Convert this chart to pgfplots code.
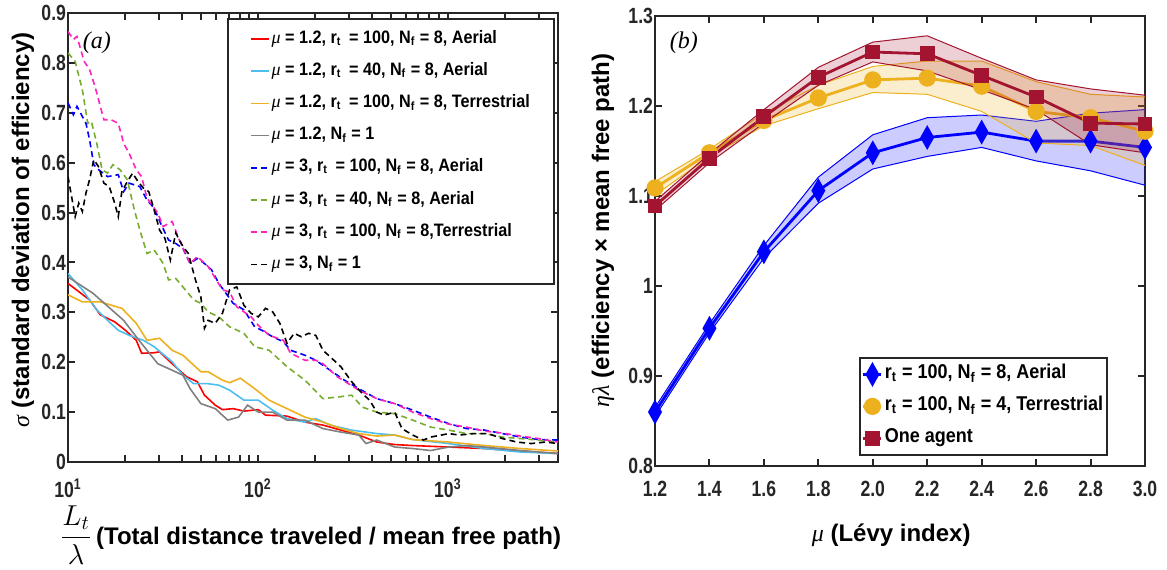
\documentclass[border=0pt]{standalone}
\usepackage{pgfplots}
\pgfplotsset{compat=1.18}
\usepackage{pgfplotstable}
\usepackage{fontspec}
\setmainfont{Liberation Sans}
\newfontfamily\serifit{Liberation Serif}
\newfontfamily\tickfont{Liberation Sans}[FakeStretch=0.8]
\newfontfamily\legfont{Liberation Sans}[FakeStretch=0.9]
\newcommand{\gk}[1]{{\serifit\mdseries\itshape #1}}
\newcommand{\sub}[1]{\textsubscript{#1}}
\definecolor{cRed}{HTML}{FF0000}
\definecolor{cCyan}{HTML}{4DBEEE}
\definecolor{cOrange}{HTML}{EDB120}
\definecolor{cGray}{HTML}{808080}
\definecolor{cBlue}{HTML}{0000FF}
\definecolor{cGreen}{HTML}{77AC30}
\definecolor{cPink}{HTML}{FF22BB}
\definecolor{rB}{HTML}{0000FF}
\definecolor{rY}{HTML}{EDB120}
\definecolor{rR}{HTML}{A2142F}
\definecolor{axc}{HTML}{262626}

\pgfplotstableread{
mu y lo hi
1.2 0.860 0.855 0.865
1.4 0.953 0.948 0.958
1.6 1.038 1.031 1.045
1.8 1.106 1.092 1.121
2.0 1.148 1.130 1.168
2.2 1.165 1.144 1.187
2.4 1.171 1.154 1.190
2.6 1.161 1.139 1.183
2.8 1.161 1.128 1.192
3.0 1.154 1.112 1.196
}\tblue
\pgfplotstableread{
mu y lo hi
1.2 1.109 1.101 1.116
1.4 1.148 1.144 1.152
1.6 1.184 1.178 1.192
1.8 1.209 1.197 1.223
2.0 1.229 1.215 1.244
2.2 1.231 1.213 1.250
2.4 1.222 1.194 1.250
2.6 1.194 1.159 1.227
2.8 1.187 1.156 1.213
3.0 1.172 1.134 1.210
}\tyel
\pgfplotstableread{
mu y lo hi
1.2 1.089 1.084 1.094
1.4 1.142 1.137 1.147
1.6 1.188 1.181 1.196
1.8 1.232 1.223 1.243
2.0 1.260 1.249 1.271
2.2 1.258 1.239 1.278
2.4 1.234 1.218 1.253
2.6 1.210 1.196 1.229
2.8 1.181 1.157 1.219
3.0 1.180 1.148 1.212
}\tred
% band outlines: upper edge forward, lower edge backward
\pgfplotstableread{
mu v
1.2 0.865
1.4 0.958
1.6 1.045
1.8 1.121
2.0 1.168
2.2 1.187
2.4 1.190
2.6 1.183
2.8 1.192
3.0 1.196
3.0 1.112
2.8 1.128
2.6 1.139
2.4 1.154
2.2 1.144
2.0 1.130
1.8 1.092
1.6 1.031
1.4 0.948
1.2 0.855
}\bblue
\pgfplotstableread{
mu v
1.2 1.116
1.4 1.152
1.6 1.192
1.8 1.223
2.0 1.244
2.2 1.250
2.4 1.250
2.6 1.227
2.8 1.213
3.0 1.210
3.0 1.134
2.8 1.156
2.6 1.159
2.4 1.194
2.2 1.213
2.0 1.215
1.8 1.197
1.6 1.178
1.4 1.144
1.2 1.101
}\byel
\pgfplotstableread{
mu v
1.2 1.094
1.4 1.147
1.6 1.196
1.8 1.243
2.0 1.271
2.2 1.278
2.4 1.253
2.6 1.229
2.8 1.219
3.0 1.212
3.0 1.148
2.8 1.157
2.6 1.196
2.4 1.218
2.2 1.239
2.0 1.249
1.8 1.223
1.6 1.181
1.4 1.137
1.2 1.084
}\bred

\pgfplotsset{
  common/.style={
    scale only axis,
    axis line style={line width=1.3pt, color=axc},
    every tick/.style={line width=1pt, color=axc},
    major tick length=3.5pt, minor tick length=3.5pt,
    tick label style={font=\tickfont\bfseries\fontsize{11}{13}\selectfont, color=axc},
    yticklabel style={xshift=2.5pt},
    label style={font=\bfseries\fontsize{12}{14}\selectfont, color=black},
    legend cell align=left,
  },
}

\begin{document}
\begin{tikzpicture}
\path[use as bounding box] (0,0) rectangle (583.5pt,-284.5pt);

% ---------------- left panel ----------------
\begin{axis}[common,
  at={(34pt,-231pt)}, anchor=south west,
  width=245pt, height=224.5pt,
  xmode=log, xmin=10, xmax=3800, ymin=0, ymax=0.9,
  xtick={10,100,1000},
  xticklabels={10\textsuperscript{1},10\textsuperscript{2},10\textsuperscript{3}},
  xticklabel style={yshift=-5pt},
  minor xtick={20,30,40,50,60,70,80,90,200,300,400,500,600,700,800,900,2000,3000},
  ytick={0,0.1,0.2,0.3,0.4,0.5,0.6,0.7,0.8,0.9},
  yticklabels={0,0.1,0.2,0.3,0.4,0.5,0.6,0.7,0.8,0.9},
  xlabel={{\fontsize{14}{16}\selectfont$\displaystyle\frac{L_t}{\lambda}$}\,(Total distance traveled / mean free path)},
  xlabel style={at={([yshift=-36.5pt]rel axis cs:0.495,0)}, anchor=center},
  ylabel={\gk{σ} (standard deviation of efficiency)},
  ylabel style={at={([xshift=-22.5pt]rel axis cs:0,0.517)}, anchor=center},
  legend style={at={(0.994,0.989)}, anchor=north east, draw=axc, line width=1.2pt, fill=white,
    font=\legfont\bfseries\fontsize{9}{10}\selectfont, row sep=4.3pt, inner xsep=11pt, inner ysep=4pt,
    nodes={inner sep=1pt, text height=7pt, text depth=2.8pt}},
  legend image code/.code={\draw[#1] (0pt,0pt) -- (9pt,0pt);},
]
\addplot[cRed, line width=0.8pt] table {
10.000 0.358
12.985 0.325
14.797 0.295
17.611 0.281
20.068 0.264
22.868 0.244
24.42 0.218
28.428 0.219
30.35 0.221
35.341 0.197
42.063 0.171
47.931 0.161
52.291 0.134
59.586 0.114
65.006 0.105
74.076 0.107
84.411 0.102
100.44 0.105
109.57 0.094
142.26 0.092
176.8 0.080
219.9 0.074
273.3 0.064
339.7 0.054
422.4 0.040
525.1 0.035
652.8 0.033
1008.7 0.030
1559 0.027
2410 0.022
3800 0.017
};
\addlegendentry{\gk{μ} = 1.2, r\sub{t}\, = 100, N\sub{f} = 8, Aerial}
\addplot[cCyan, line width=0.8pt] table {
10.000 0.378
11.902 0.345
14.166 0.305
16.143 0.284
18.395 0.264
20.961 0.254
24.948 0.244
28.428 0.231
35.341 0.201
40.271 0.174
45.889 0.157
54.618 0.157
62.237 0.154
70.92 0.144
84.411 0.124
100.44 0.124
119.53 0.104
142.26 0.087
176.8 0.080
201.5 0.087
239.8 0.074
311.4 0.064
422.4 0.057
525.1 0.054
652.8 0.045
1008.7 0.037
1559 0.027
2410 0.020
3800 0.017
};
\addlegendentry{\gk{μ} = 1.2, r\sub{t}\, = 40, N\sub{f} = 8, Aerial}
\addplot[cOrange, line width=0.8pt] table {
10.000 0.335
11.902 0.321
14.797 0.321
19.213 0.308
22.868 0.278
26.058 0.244
30.35 0.248
35.341 0.224
40.271 0.214
50.064 0.181
54.618 0.181
65.006 0.164
70.92 0.159
80.815 0.168
96.16 0.147
114.44 0.124
142.26 0.107
176.8 0.090
219.9 0.080
273.3 0.067
339.7 0.057
422.4 0.052
525.1 0.054
652.8 0.045
1008.7 0.040
1559 0.033
2410 0.027
3800 0.022
};
\addlegendentry{\gk{μ} = 1.2, r\sub{t}\, = 100, N\sub{f} = 8, Terrestrial}
\addplot[cGray, line width=0.8pt] table {
10.000 0.371
13.563 0.338
19.63 0.284
22.868 0.251
29.693 0.197
35.341 0.184
40.271 0.174
43.934 0.147
50.064 0.117
59.586 0.107
69.39 0.084
79.06 0.090
88.166 0.114
100.44 0.100
119.53 0.100
142.26 0.084
176.8 0.084
219.9 0.067
273.3 0.060
339.7 0.054
370.6 0.037
422.4 0.044
525.1 0.030
652.8 0.027
811.7 0.023
1008.7 0.030
1254 0.033
1559 0.030
2410 0.023
3800 0.017
};
\addlegendentry{\gk{μ} = 1.2, N\sub{f} = 1}
\addplot[cBlue, line width=0.8pt, dash pattern=on 3pt off 2pt] table {
10.000 0.720
10.675 0.696
11.149 0.713
12.432 0.679
12.985 0.646
13.68 0.596
14.478 0.586
16.143 0.572
18.395 0.576
19.63 0.542
20.961 0.559
23.885 0.552
26.058 0.525
28.428 0.509
31.014 0.475
33.835 0.445
36.913 0.438
40.271 0.428
43.934 0.398
47.931 0.408
52.291 0.398
57.048 0.385
62.237 0.358
67.899 0.338
74.076 0.318
84.411 0.305
96.16 0.271
104.9 0.264
119.53 0.251
136.2 0.241
148.59 0.224
176.8 0.214
201.5 0.204
239.8 0.184
285.4 0.164
339.7 0.147
422.4 0.127
525.1 0.117
652.8 0.104
811.7 0.090
1008.7 0.077
1254 0.067
1559 0.064
1938 0.057
2410 0.050
2995 0.045
3800 0.044
};
\addlegendentry{\gk{μ} = 3, r\sub{t}\, = 100, N\sub{f} = 8, Aerial}
\addplot[cGreen, line width=0.8pt, dash pattern=on 3pt off 2pt] table {
10.000 0.820
10.909 0.803
11.902 0.746
12.706 0.679
13.271 0.683
14.166 0.639
15.122 0.586
16.143 0.579
17.232 0.596
18.80 0.586
20.51 0.566
22.37 0.505
23.885 0.465
26.058 0.418
28.428 0.425
31.70 0.398
33.835 0.365
36.913 0.368
40.271 0.351
45.889 0.325
50.064 0.318
54.618 0.301
62.237 0.291
70.92 0.271
84.411 0.258
96.16 0.231
114.44 0.224
142.26 0.191
176.8 0.164
219.9 0.127
273.3 0.131
311.4 0.134
354.8 0.110
422.4 0.100
525.1 0.097
652.8 0.084
811.7 0.070
1008.7 0.064
1254 0.057
1559 0.057
1938 0.050
2410 0.047
2995 0.044
3800 0.040
};
\addlegendentry{\gk{μ} = 3, r\sub{t}\, = 40, N\sub{f} = 8, Aerial}
\addplot[cPink, line width=0.8pt, dash pattern=on 3pt off 2pt] table {
10.000 0.863
10.675 0.847
11.149 0.853
12.164 0.803
12.985 0.787
13.861 0.753
14.797 0.713
15.456 0.686
16.861 0.686
18.395 0.679
19.63 0.639
20.961 0.619
22.868 0.586
24.42 0.572
26.058 0.529
29.693 0.499
31.70 0.472
35.341 0.482
38.555 0.445
43.934 0.398
47.931 0.412
54.618 0.392
65.006 0.345
70.92 0.341
77.372 0.311
92.06 0.291
100.44 0.274
114.44 0.254
136.2 0.244
148.59 0.218
176.8 0.204
201.5 0.204
219.9 0.197
261.6 0.171
339.7 0.144
422.4 0.127
525.1 0.117
652.8 0.100
811.7 0.087
1008.7 0.076
1254 0.070
1559 0.062
1938 0.058
2410 0.052
2995 0.047
3800 0.040
};
\addlegendentry{\gk{μ} = 3, r\sub{t}\, = 100, N\sub{f} = 8,Terrestrial}
\addplot[black, line width=0.8pt, dash pattern=on 3pt off 2pt] table {
10.000 0.572
10.445 0.532
10.909 0.492
11.395 0.519
11.902 0.502
12.432 0.539
12.985 0.566
13.68 0.606
14.478 0.592
15.456 0.559
16.498 0.552
17.611 0.519
18.395 0.492
19.213 0.542
20.51 0.562
21.894 0.579
23.37 0.562
24.948 0.549
26.63 0.542
28.428 0.505
30.35 0.465
32.394 0.448
34.58 0.405
36.913 0.459
40.271 0.432
43.00 0.418
46.90 0.365
50.064 0.331
52.291 0.268
54.618 0.284
59.586 0.278
65.006 0.298
70.92 0.345
77.372 0.351
84.411 0.314
92.06 0.298
100.44 0.291
109.57 0.308
119.53 0.301
130.4 0.278
142.26 0.238
155.2 0.258
169.3 0.251
184.7 0.258
201.5 0.254
219.9 0.224
239.8 0.211
273.3 0.191
311.4 0.161
354.8 0.137
387.1 0.124
422.4 0.100
460.8 0.094
525.1 0.100
573.0 0.067
652.8 0.054
743.8 0.044
811.7 0.050
924.7 0.054
1008.7 0.057
1149.5 0.054
1368 0.057
1628 0.057
1938 0.047
2307 0.040
2745 0.037
3268 0.040
3800 0.037
};
\addlegendentry{\gk{μ} = 3, N\sub{f} = 1}
\node[font=\serifit\itshape\fontsize{12}{14}\selectfont] at (rel axis cs:0.059,0.933) {(a)};
\end{axis}

% ---------------- right panel ----------------
\begin{axis}[common,
  at={(327.5pt,-233pt)}, anchor=south west,
  width=245pt, height=225pt,
  xmin=1.2, xmax=3.0, ymin=0.8, ymax=1.3,
  xtick={1.2,1.4,1.6,1.8,2.0,2.2,2.4,2.6,2.8,3.0},
  xticklabels={1.2,1.4,1.6,1.8,2.0,2.2,2.4,2.6,2.8,3.0},
  xticklabel style={yshift=-4pt},
  ytick={0.8,0.9,1,1.1,1.2,1.3},
  yticklabels={0.8,0.9,1,1.1,1.2,1.3},
  xlabel={\gk{μ} (Lévy index)},
  xlabel style={at={([yshift=-34.5pt]rel axis cs:0.482,0)}, anchor=center},
  ylabel={\gk{ηλ} (efficiency × mean free path)},
  ylabel style={at={([xshift=-26pt]rel axis cs:0,0.524)}, anchor=center},
  legend style={at={(0.416,0.022)}, anchor=south west, draw=axc, line width=1.2pt, fill=white,
    font=\legfont\bfseries\fontsize{10}{11}\selectfont, row sep=3.5pt, inner xsep=1pt, inner ysep=2pt,
    nodes={inner sep=1pt, text height=7.5pt, text depth=3pt}},
  legend image code/.code={\draw[mark repeat=2,mark phase=2,#1] plot coordinates {(0pt,0pt) (4.5pt,0pt) (9pt,0pt)};},
]
% blue
\addplot[fill=rB, fill opacity=0.2, draw=none, forget plot] table[x=mu,y=v]{\bblue};
\addplot[draw=rB, line width=0.5pt, forget plot] table[x=mu,y=lo]{\tblue};
\addplot[draw=rB, line width=0.5pt, forget plot] table[x=mu,y=hi]{\tblue};
\addplot[rB, line width=1.4pt, mark=diamond*, mark size=4.8pt, mark options={xscale=0.75, solid}] table[x=mu,y=y]{\tblue};
\addlegendentry{r\sub{t} = 100, N\sub{f} = 8, Aerial}
% yellow
\addplot[fill=rY, fill opacity=0.22, draw=none, forget plot] table[x=mu,y=v]{\byel};
\addplot[draw=rY, line width=0.5pt, forget plot] table[x=mu,y=lo]{\tyel};
\addplot[draw=rY, line width=0.5pt, forget plot] table[x=mu,y=hi]{\tyel};
\addplot[rY, line width=1.4pt, mark=*, mark size=3.6pt] table[x=mu,y=y]{\tyel};
\addlegendentry{r\sub{t} = 100, N\sub{f} = 4, Terrestrial}
% red
\addplot[fill=rR, fill opacity=0.2, draw=none, forget plot] table[x=mu,y=v]{\bred};
\addplot[draw=rR, line width=0.5pt, forget plot] table[x=mu,y=lo]{\tred};
\addplot[draw=rR, line width=0.5pt, forget plot] table[x=mu,y=hi]{\tred};
\addplot[rR, line width=1.4pt, mark=square*, mark size=3pt] table[x=mu,y=y]{\tred};
\addlegendentry{One agent}
\node[font=\serifit\itshape\fontsize{12}{14}\selectfont] at (rel axis cs:0.059,0.94) {(b)};
\end{axis}
\end{tikzpicture}
\end{document}
